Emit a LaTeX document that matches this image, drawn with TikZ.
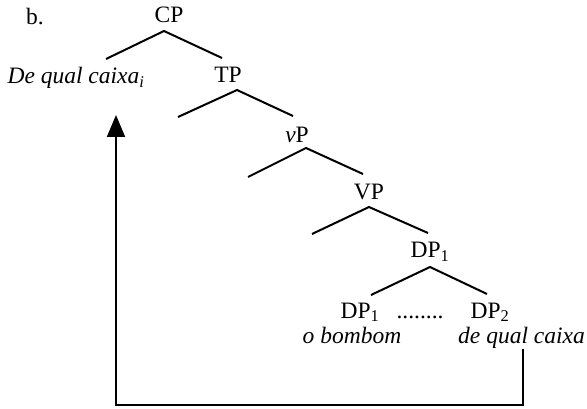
\documentclass[tikz,border=0pt]{standalone}
\usepackage{fontspec}
\setmainfont{Liberation Serif}
\usetikzlibrary{arrows.meta}
\tikzset{
  lbl/.style={inner sep=0pt, anchor=base, font=\fontsize{23.5}{28}\selectfont},
  branch/.style={line width=2pt, line cap=butt},
  mover/.style={line width=2pt, -{Triangle[width=18pt,length=22pt]}}
}
\begin{document}
\begin{tikzpicture}[x=1pt,y=-1pt]
\useasboundingbox (0,0) rectangle (587,409);
% labels
\node[lbl] (b) at (35,25) {b.};
\node[lbl] (cp) at (169,23) {CP};
\node[lbl] (dqci) at (76,84) {\textit{De qual caixa\textsubscript{i}}};
\node[lbl] (tp) at (228,83) {TP};
\node[lbl] (vp) at (297,143) {\textit{v}P};
\node[lbl] (VP) at (369,200) {VP};
\node[lbl] (dp1u) at (430,258) {DP\textsubscript{1}};
\node[lbl] (dp1l) at (360,318) {DP\textsubscript{1}};
\node[lbl] (dots) at (420,318) {........};
\node[lbl] (dp2) at (490,318) {DP\textsubscript{2}};
\node[lbl] (ob) at (352,343) {\textit{o bombom}};
\node[lbl, anchor=base west] (dqc) at (458,343) {\textit{de qual caixa}};
% branch coordinates
\coordinate (cpa) at (164,31);
\coordinate (cpl) at (106,59);
\coordinate (cpr) at (222,58);
\coordinate (tpa) at (237,90);
\coordinate (tpl) at (178,117);
\coordinate (tpr) at (293,116);
\coordinate (vpa) at (306,148);
\coordinate (vpl) at (248,177);
\coordinate (vpr) at (363,174);
\coordinate (VPa) at (369,207);
\coordinate (VPl) at (312,234);
\coordinate (VPr) at (428,233);
\coordinate (dpa) at (430,267);
\coordinate (dpl) at (371,295);
\coordinate (dpr) at (487,294);
\draw[branch] (cpl) -- (cpa) -- (cpr);
\draw[branch] (tpl) -- (tpa) -- (tpr);
\draw[branch] (vpl) -- (vpa) -- (vpr);
\draw[branch] (VPl) -- (VPa) -- (VPr);
\draw[branch] (dpl) -- (dpa) -- (dpr);
% movement arrow
\coordinate (src) at (523,349);
\coordinate (cornerR) at (523,405);
\coordinate (cornerL) at (116,405);
\coordinate (tgt) at (116,115);
\draw[mover] (src) -- (cornerR) -- (cornerL) -- (tgt);
\end{tikzpicture}
\end{document}
